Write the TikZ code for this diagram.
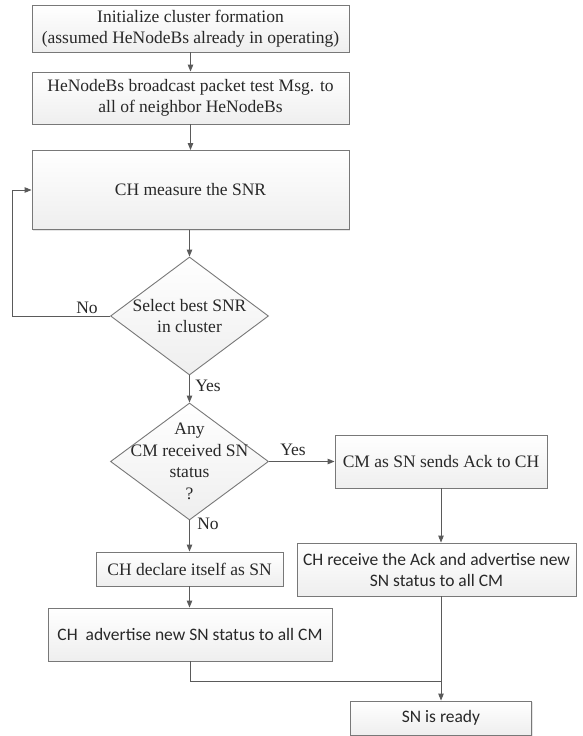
\documentclass[tikz,border=0pt]{standalone}
\usepackage{fontspec}
\setmainfont{Liberation Serif}
\newfontfamily\timesfont{Liberation Serif}
\newfontfamily\calibfont{Carlito}
\usetikzlibrary{arrows.meta,shapes.geometric,shadows}
\definecolor{edgecol}{RGB}{120,120,120}
\definecolor{conncol}{RGB}{90,90,90}
\definecolor{txtcol}{RGB}{40,40,40}
\begin{document}
\begin{tikzpicture}[x=1pt,y=-1pt,
  box/.style={draw=edgecol, line width=0.9pt, top color=white, bottom color=gray!13,
    drop shadow={shadow xshift=1.2pt, shadow yshift=-1.2pt, opacity=0.2},
    align=center, font=\timesfont\fontsize{17.5}{21}\selectfont, text=txtcol, inner sep=2pt},
  sbox/.style={box, font=\calibfont\fontsize{17.5}{21}\selectfont},
  dia/.style={diamond, draw=edgecol, line width=0.9pt, top color=white, bottom color=gray!13, inner sep=0pt},
  dtext/.style={align=center, font=\timesfont\fontsize{17.5}{21.5}\selectfont, text=txtcol, inner sep=0pt},
  lab/.style={font=\timesfont\fontsize{17.5}{21}\selectfont, text=txtcol, inner sep=0pt},
  arr/.style={draw=conncol, line width=0.9pt, -{Triangle[length=7pt,width=5.5pt]}},
  ln/.style={draw=conncol, line width=0.9pt}]
\fill[white] (0,0) rectangle (583,736);
\useasboundingbox (0,0) rectangle (583,736);

\node[box, minimum width=317pt, minimum height=47pt] (b1) at (190.5,28.5)
  {Initialize cluster formation\\(assumed HeNodeBs already in operating)};
\node[box, minimum width=317pt, minimum height=52pt] (b2) at (190.5,98)
  {HeNodeBs broadcast packet test Msg. to\\all of neighbor HeNodeBs};
\node[box, minimum width=317pt, minimum height=79pt] (b3) at (190.5,190)
  {CH measure the SNR};
\node[dia, minimum width=158pt, minimum height=118pt] (d1) at (189.5,316) {};
\node[dtext] (d1t) at (d1) {Select best SNR\\in cluster};
\node[dia, minimum width=158pt, minimum height=117pt] (d2) at (189.5,461.5) {};
\node[dtext] (d2t) at (d2) {Any\\CM received SN\\status\\?};
\node[box, minimum width=212pt, minimum height=53pt] (cmack) at (441,461.5)
  {CM as SN sends Ack to CH};
\node[box, minimum width=187pt, minimum height=34pt] (chdecl) at (189.5,569)
  {CH declare itself as SN};
\node[sbox, minimum width=279pt, minimum height=53pt] (chrecv) at (436.5,569.5)
  {CH receive the Ack and advertise new\\SN status to all CM};
\node[sbox, minimum width=284pt, minimum height=53pt] (chadv) at (190,634.5)
  {CH\ \ advertise new SN status to all CM};
\node[sbox, minimum width=181pt, minimum height=34pt] (ready) at (441,718)
  {SN is ready};

\node[lab] (no1) at (87,308) {No};
\node[lab] (yes1) at (208,386) {Yes};
\node[lab] (yes2) at (293,450) {Yes};
\node[lab] (no2) at (208,524) {No};

\coordinate (lp) at (12,316);
\coordinate (mg) at (441,681);

\draw[arr] (b1.south) -- (b2.north);
\draw[arr] (b2.south) -- (b3.north);
\draw[arr] (b3.south -| d1.north) -- (d1.north);
\draw[arr] (d1.west) -- (lp) |- (b3.west);
\draw[arr] (d1.south) -- (d2.north);
\draw[arr] (d2.east) -- (cmack.west);
\draw[arr] (d2.south) -- (chdecl.north);
\draw[arr] (chdecl.south) -- (chdecl.south |- chadv.north);
\draw[arr] (cmack.south) -- (cmack.south |- chrecv.north);
\draw[ln] (chadv.south) |- (mg);
\draw[arr] (cmack.south |- chrecv.south) -- (ready.north);
\end{tikzpicture}
\end{document}
